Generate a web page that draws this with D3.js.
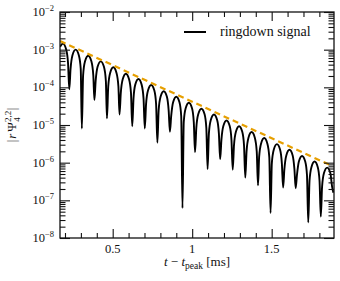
<!DOCTYPE html>
<html lang="en">
<head>
<meta charset="UTF-8">
<title>ringdown</title>
<script src="https://d3js.org/d3.v7.min.js"></script>
<style>
  body { margin: 0; background: #fff; }
  text { font-family: "Liberation Serif", "DejaVu Serif", serif; fill: #111; }
</style>
</head>
<body>
<script>
  const WIDTH = 340;
  const HEIGHT = 281;
  const margin = { left: 60, right: 6, top: 12, bottom: 43 };

  // signal: t - t_peak [ms] and |r Psi_4^{2,2}|
  const signalT = [
    0.169, 0.187, 0.207, 0.219, 0.227, 0.235, 0.247,
    0.267, 0.287, 0.299, 0.306, 0.314, 0.326,
    0.346, 0.366, 0.378, 0.385, 0.393, 0.405,
    0.425, 0.445, 0.457, 0.464, 0.472, 0.484,
    0.504, 0.524, 0.536, 0.543, 0.551, 0.563,
    0.583, 0.603, 0.615, 0.623, 0.631, 0.642,
    0.662, 0.682, 0.694, 0.702, 0.710, 0.722,
    0.742, 0.762, 0.773, 0.781, 0.789, 0.801,
    0.821, 0.841, 0.852, 0.860, 0.868, 0.880,
    0.900, 0.920, 0.931, 0.939, 0.947, 0.959,
    0.979, 0.999, 1.010, 1.018, 1.026, 1.038,
    1.058, 1.078, 1.089, 1.097, 1.105, 1.117,
    1.137, 1.157, 1.168, 1.176, 1.184, 1.196,
    1.216, 1.236, 1.247, 1.255, 1.263, 1.275,
    1.295, 1.315, 1.326, 1.334, 1.342, 1.354,
    1.374, 1.394, 1.406, 1.414, 1.421, 1.433,
    1.453, 1.473, 1.485, 1.493, 1.501, 1.513,
    1.533, 1.553, 1.564, 1.572, 1.580, 1.592,
    1.612, 1.632, 1.643, 1.651, 1.659, 1.671,
    1.691, 1.711, 1.722, 1.730, 1.738, 1.750,
    1.770, 1.790, 1.801, 1.809, 1.817, 1.829,
    1.849, 1.869, 1.880, 1.888
  ];
  const signalV = [
    1.2e-3, 1.45e-3, 1.03e-3, 4.5e-4, 8.9e-5, 3.1e-4, 7.1e-4,
    1.0e-3, 7.1e-4, 3.1e-4, 8.1e-6, 2.1e-4, 4.9e-4,
    6.9e-4, 4.9e-4, 2.1e-4, 4.6e-5, 1.5e-4, 3.5e-4,
    4.9e-4, 3.5e-4, 1.5e-4, 1.5e-5, 1.05e-4, 2.4e-4,
    3.4e-4, 2.4e-4, 1.05e-4, 1.9e-5, 7.1e-5, 1.63e-4,
    2.3e-4, 1.63e-4, 7.1e-5, 9.3e-6, 5.1e-5, 1.18e-4,
    1.66e-4, 1.18e-4, 5.1e-5, 8.1e-6, 3.6e-5, 8.2e-5,
    1.15e-4, 8.2e-5, 3.6e-5, 3.4e-6, 2.45e-5, 5.6e-5,
    7.9e-5, 5.6e-5, 2.45e-5, 6.6e-6, 1.74e-5, 4.0e-5,
    5.6e-5, 4.0e-5, 1.74e-5, 6.2e-8, 1.21e-5, 2.8e-5,
    3.9e-5, 2.8e-5, 1.21e-5, 1.9e-6, 8.4e-6, 1.92e-5,
    2.7e-5, 1.92e-5, 8.4e-6, 6.8e-7, 5.9e-6, 1.35e-5,
    1.9e-5, 1.35e-5, 5.9e-6, 1.23e-6, 4.1e-6, 9.4e-6,
    1.32e-5, 9.4e-6, 4.1e-6, 6.5e-7, 2.9e-6, 6.6e-6,
    9.3e-6, 6.6e-6, 2.9e-6, 4.0e-7, 2.0e-6, 4.6e-6,
    6.5e-6, 4.6e-6, 2.0e-6, 2.5e-7, 1.4e-6, 3.2e-6,
    4.5e-6, 3.2e-6, 1.4e-6, 4.6e-8, 9.6e-7, 2.2e-6,
    3.1e-6, 2.2e-6, 9.6e-7, 2.2e-7, 6.8e-7, 1.56e-6,
    2.2e-6, 1.56e-6, 6.8e-7, 2.1e-7, 4.7e-7, 1.07e-6,
    1.5e-6, 1.07e-6, 4.7e-7, 2.6e-8, 3.3e-7, 7.6e-7,
    1.07e-6, 7.6e-7, 3.3e-7, 3.7e-8, 2.3e-7, 5.3e-7,
    7.4e-7, 5.3e-7, 2.3e-7, 1.6e-7
  ];

  // dashed envelope
  const envelopeT = [0.169, 1.879];
  const envelopeV = [1.7e-3, 8.2e-7];

  const xMajor = [0.5, 1, 1.5];
  const xMajorLabels = ['0.5', '1', '1.5'];
  const xMinor = [0.2, 0.3, 0.4, 0.6, 0.7, 0.8, 0.9, 1.1, 1.2, 1.3, 1.4, 1.6, 1.7, 1.8];
  const yMajor = [1e-8, 1e-7, 1e-6, 1e-5, 1e-4, 1e-3, 1e-2];
  const yExpLabels = ['−8', '−7', '−6', '−5', '−4', '−3', '−2'];

  const innerW = WIDTH - margin.left - margin.right;
  const innerH = HEIGHT - margin.top - margin.bottom;

  const x = d3.scaleLinear().domain([0.1686, 1.892]).range([0, innerW]);
  const y = d3.scaleLog().domain([1e-8, 1e-2]).range([innerH, 0]);

  const svg = d3.select('body').append('svg')
    .attr('width', WIDTH)
    .attr('height', HEIGHT);

  const g = svg.append('g')
    .attr('transform', `translate(${margin.left},${margin.top})`);

  g.append('clipPath').attr('id', 'clip')
    .append('rect').attr('width', innerW).attr('height', innerH);

  const signal = signalT.map((t, i) => [t, signalV[i]]);
  const envelope = envelopeT.map((t, i) => [t, envelopeV[i]]);

  const line = d3.line()
    .x(d => x(d[0]))
    .y(d => y(d[1]))
    .curve(d3.curveMonotoneX);

  g.append('path')
    .datum(signal)
    .attr('clip-path', 'url(#clip)')
    .attr('d', line)
    .attr('fill', 'none')
    .attr('stroke', '#000')
    .attr('stroke-width', 1.9)
    .attr('stroke-linejoin', 'round');

  g.append('path')
    .datum(envelope)
    .attr('clip-path', 'url(#clip)')
    .attr('d', d3.line().x(d => x(d[0])).y(d => y(d[1])))
    .attr('fill', 'none')
    .attr('stroke', '#e69f00')
    .attr('stroke-width', 2.2)
    .attr('stroke-dasharray', '6,4');

  // ticks, all pointing inward
  const yMinor = y.ticks().filter(v => !yMajor.some(m => Math.abs(m - v) / m < 1e-6));

  function ticks(axisFn, scale, vals, size, transform) {
    g.append('g')
      .attr('transform', transform)
      .call(axisFn(scale).tickValues(vals).tickSize(size).tickSizeOuter(0).tickFormat(''))
      .call(a => a.select('.domain').remove())
      .selectAll('line').attr('stroke', '#111').attr('stroke-width', 1.1);
  }

  ticks(d3.axisBottom, x, xMajor, -9, `translate(0,${innerH})`);
  ticks(d3.axisBottom, x, xMinor, -5, `translate(0,${innerH})`);
  ticks(d3.axisTop, x, xMajor, -9, 'translate(0,0)');
  ticks(d3.axisTop, x, xMinor, -5, 'translate(0,0)');
  ticks(d3.axisLeft, y, yMajor, -10, 'translate(0,0)');
  ticks(d3.axisLeft, y, yMinor, -5.5, 'translate(0,0)');
  ticks(d3.axisRight, y, yMajor, -10, `translate(${innerW},0)`);
  ticks(d3.axisRight, y, yMinor, -5.5, `translate(${innerW},0)`);

  g.append('rect')
    .attr('width', innerW)
    .attr('height', innerH)
    .attr('fill', 'none')
    .attr('stroke', '#111')
    .attr('stroke-width', 1.3);

  // tick labels
  g.selectAll('.xlab')
    .data(xMajor)
    .enter()
    .append('text')
    .attr('x', d => x(d))
    .attr('y', innerH + 15)
    .attr('text-anchor', 'middle')
    .attr('font-size', 12.5)
    .text((d, i) => xMajorLabels[i]);

  const ylab = g.selectAll('.ylab')
    .data(yMajor)
    .enter()
    .append('text')
    .attr('x', -6)
    .attr('y', d => y(d) + 4)
    .attr('text-anchor', 'end')
    .attr('font-size', 12.5);
  ylab.append('tspan').text('10');
  ylab.append('tspan')
    .attr('dy', -5)
    .attr('font-size', 8.5)
    .text((d, i) => yExpLabels[i]);

  // axis titles
  const xt = svg.append('text')
    .attr('x', 197)
    .attr('y', 266)
    .attr('text-anchor', 'middle')
    .attr('font-size', 13);
  xt.append('tspan').attr('font-style', 'italic').text('t');
  xt.append('tspan').text(' − ');
  xt.append('tspan').attr('font-style', 'italic').text('t');
  xt.append('tspan').attr('font-size', 9.5).attr('dy', 3).text('peak');
  xt.append('tspan').attr('dy', -3).text(' [ms]');

  const yt = svg.append('text')
    .attr('transform', 'translate(16,125) rotate(-90)')
    .attr('text-anchor', 'middle')
    .attr('font-size', 13);
  yt.append('tspan').text('|');
  yt.append('tspan').attr('font-style', 'italic').attr('dx', 1).text('r');
  yt.append('tspan').attr('dx', 2).text('Ψ');
  yt.append('tspan').attr('font-size', 9).attr('dy', -5).text('2,2');
  yt.append('tspan').attr('font-size', 9).attr('dx', -11).attr('dy', 9).text('4');
  yt.append('tspan').attr('dx', 7).attr('dy', -4).text('|');

  // legend
  svg.append('line')
    .attr('x1', 184).attr('x2', 206)
    .attr('y1', 32).attr('y2', 32)
    .attr('stroke', '#000')
    .attr('stroke-width', 2);
  svg.append('text')
    .attr('x', 220)
    .attr('y', 36)
    .attr('font-size', 14)
    .text('ringdown signal');
</script>
</body>
</html>
